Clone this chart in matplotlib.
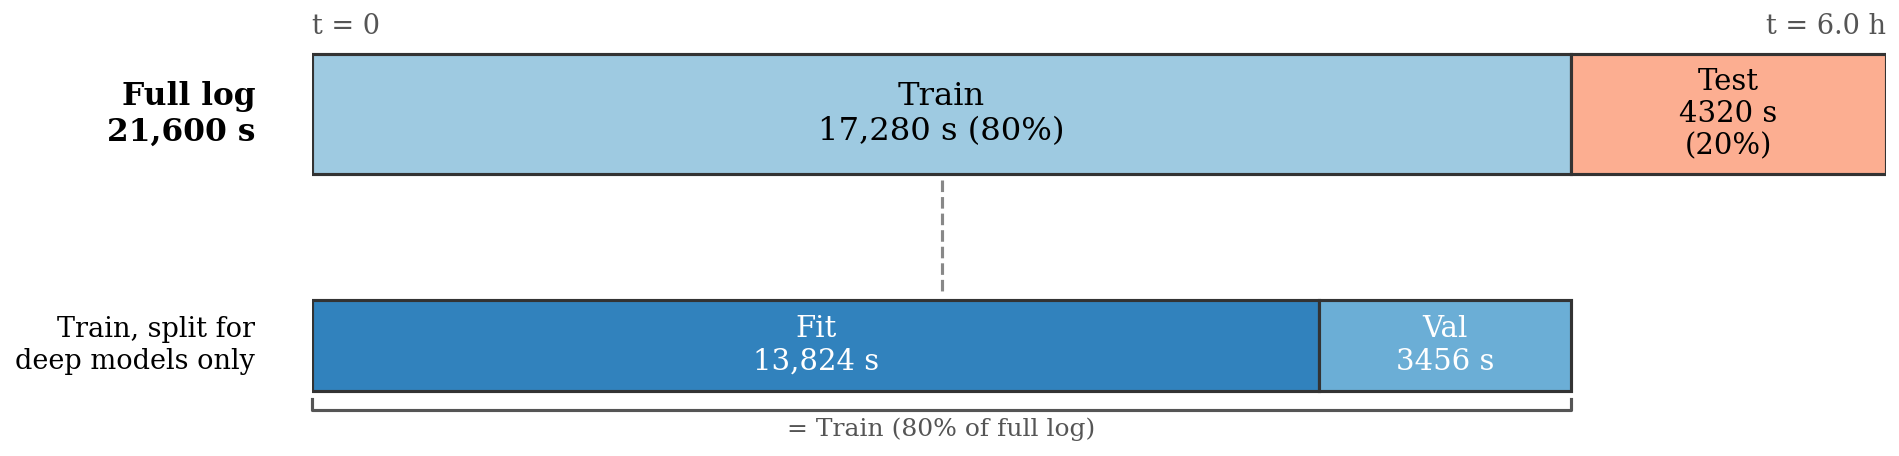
import numpy as np
import matplotlib.pyplot as plt

plt.rcParams['font.family'] = 'DejaVu Serif'

total = 21600
top_names = ["Train", "Test"]
top_vals = [17280, 4320]
top_colors = ["#9ecae1", "#fcae91"]

bot_names = ["Fit", "Val"]
bot_vals = [13824, 3456]
bot_colors = ["#3182bd", "#6baed6"]

fig = plt.figure(figsize=(12.66, 3.04), dpi=150)
ax = fig.add_axes([312 / 1899, 0, 1574 / 1899, 1])
ax.set_xlim(0, total)
ax.set_ylim(456, 0)
ax.axis("off")

# top row: full log
y_top, h_top = 114, 120
lefts = np.concatenate([[0], np.cumsum(top_vals)[:-1]])
ax.barh(y_top, top_vals, left=lefts, height=h_top, color=top_colors,
        edgecolor="#333333", linewidth=1.5)
ax.text(lefts[0] + top_vals[0] / 2, y_top,
        "Train\n{:,} s ({:.0f}%)".format(top_vals[0], 100 * top_vals[0] / total),
        ha="center", va="center", fontsize=15.5)
ax.text(lefts[1] + top_vals[1] / 2, y_top,
        "Test\n{} s\n({:.0f}%)".format(top_vals[1], 100 * top_vals[1] / total),
        ha="center", va="center", fontsize=14)

# bottom row: train split
y_bot, h_bot = 345.5, 91
blefts = np.concatenate([[0], np.cumsum(bot_vals)[:-1]])
ax.barh(y_bot, bot_vals, left=blefts, height=h_bot, color=bot_colors,
        edgecolor="#333333", linewidth=1.5)
ax.text(blefts[0] + bot_vals[0] / 2, y_bot, "Fit\n{:,} s".format(bot_vals[0]),
        ha="center", va="center", fontsize=14, color="white")
ax.text(blefts[1] + bot_vals[1] / 2, y_bot, "Val\n{} s".format(bot_vals[1]),
        ha="center", va="center", fontsize=14, color="white")

# dashed connector
ax.plot([top_vals[0] / 2] * 2, [180, 291], ls="--", color="#888888", lw=1.5)

# bracket under the train split
tr = sum(bot_vals)
ax.plot([0, 0, tr, tr], [399, 410, 410, 399], color="#555555", lw=1.5,
        clip_on=False)
ax.text(tr / 2, 429, "= Train (80% of full log)", ha="center", va="center",
        fontsize=12, color="#555555")

# time labels
ax.text(0, 27, "t = 0", ha="left", va="center", fontsize=13, color="#555555")
ax.text(total, 27, "t = {:.1f} h".format(total / 3600), ha="right", va="center",
        fontsize=13, color="#555555")

# row labels
ax.text(-780, y_top, "Full log\n{:,} s".format(total), ha="right", va="center",
        fontsize=15, fontweight="bold", clip_on=False)
ax.text(-780, y_bot, "Train, split for\ndeep models only", ha="right",
        va="center", fontsize=13, clip_on=False)

fig.savefig("out.png", dpi=150)
